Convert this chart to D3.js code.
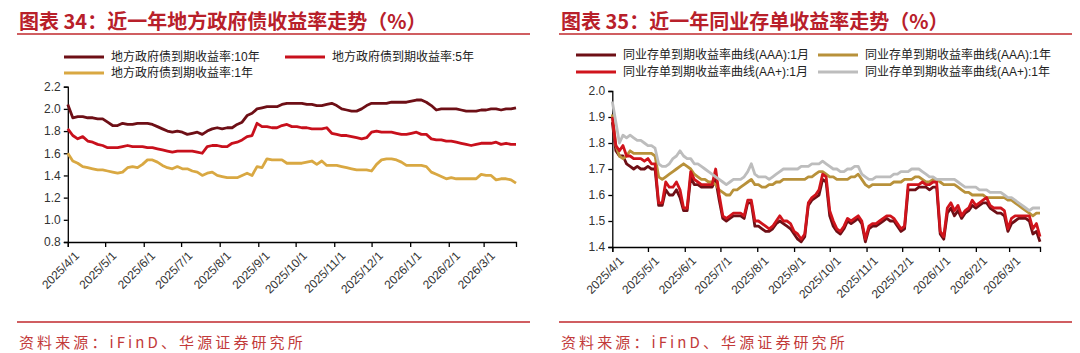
<!DOCTYPE html>
<html lang="zh">
<head>
<meta charset="UTF-8">
<title>收益率走势</title>
<script src="https://cdn.jsdelivr.net/npm/d3@7"></script>
<style>
    * { margin: 0; padding: 0; }
    body { background: #fff; }
    svg { display: block; font-family: "Liberation Sans", "Noto Sans CJK SC", sans-serif; }
    .title { font-family: "Noto Sans CJK SC", sans-serif; font-weight: bold; font-size: 20px; fill: #b8202a; }
    .source { font-family: "Noto Sans CJK SC", sans-serif; font-size: 15px; fill: #c23a3a; letter-spacing: 3.1px; }
    .legend text { font-family: "Liberation Sans", "Noto Sans CJK SC", sans-serif; font-size: 12px; fill: #222; }
    .axis text { font-family: "Liberation Sans", sans-serif; font-size: 12px; fill: #333; }
    .axis path, .axis line { stroke: #000; stroke-width: 1.3; }
</style>
</head>
<body>
<svg id="chart" width="1080" height="353"></svg>
<script>
// 横轴刻度
var tickLabels = ['2025/4/1', '2025/5/1', '2025/6/1', '2025/7/1', '2025/8/1', '2025/9/1',
    '2025/10/1', '2025/11/1', '2025/12/1', '2026/1/1', '2026/2/1', '2026/3/1'];

// 图表34: 每4天取一个点, 2025/4/1 ~ 2026/3/27
var leftDates = d3.timeDay.range(new Date(2025, 3, 1), new Date(2026, 2, 28), 4);
var local10y = [2.04, 1.92, 1.93, 1.93, 1.92, 1.92, 1.91, 1.91, 1.88, 1.85, 1.85, 1.87, 1.86, 1.86, 1.87, 1.87,
    1.87, 1.86, 1.84, 1.82, 1.80, 1.79, 1.80, 1.79, 1.77, 1.78, 1.79, 1.77, 1.80, 1.82, 1.83, 1.82,
    1.83, 1.83, 1.86, 1.88, 1.94, 1.96, 2.00, 2.01, 2.02, 2.02, 2.02, 2.04, 2.05, 2.05, 2.05, 2.05,
    2.04, 2.04, 2.03, 2.03, 2.04, 2.05, 2.03, 2.00, 1.99, 1.98, 1.98, 2.00, 2.03, 2.05, 2.05, 2.05,
    2.05, 2.06, 2.06, 2.06, 2.06, 2.07, 2.08, 2.08, 2.06, 2.03, 1.99, 2.00, 2.00, 2.00, 2.00, 1.99,
    1.98, 1.98, 1.98, 1.99, 1.99, 2.00, 2.00, 1.99, 2.00, 2.00, 2.01];
var local5y = [1.82, 1.76, 1.73, 1.75, 1.71, 1.70, 1.68, 1.67, 1.65, 1.65, 1.65, 1.66, 1.67, 1.66, 1.66, 1.66,
    1.65, 1.65, 1.64, 1.63, 1.62, 1.61, 1.62, 1.62, 1.62, 1.62, 1.61, 1.60, 1.66, 1.67, 1.67, 1.66,
    1.66, 1.69, 1.70, 1.72, 1.75, 1.76, 1.87, 1.84, 1.84, 1.83, 1.83, 1.85, 1.86, 1.84, 1.84, 1.83,
    1.83, 1.82, 1.82, 1.82, 1.83, 1.78, 1.77, 1.76, 1.76, 1.75, 1.74, 1.73, 1.74, 1.79, 1.80, 1.79,
    1.79, 1.79, 1.78, 1.77, 1.77, 1.78, 1.79, 1.77, 1.77, 1.73, 1.72, 1.72, 1.71, 1.71, 1.70, 1.69,
    1.68, 1.67, 1.68, 1.69, 1.69, 1.69, 1.70, 1.68, 1.69, 1.68, 1.68];
var local1y = [1.60, 1.53, 1.51, 1.48, 1.47, 1.46, 1.45, 1.45, 1.44, 1.43, 1.42, 1.43, 1.47, 1.48, 1.47, 1.50,
    1.54, 1.54, 1.52, 1.49, 1.47, 1.46, 1.48, 1.46, 1.46, 1.44, 1.43, 1.40, 1.42, 1.43, 1.40, 1.39,
    1.38, 1.38, 1.38, 1.40, 1.42, 1.40, 1.48, 1.47, 1.55, 1.54, 1.54, 1.54, 1.51, 1.51, 1.51, 1.51,
    1.52, 1.53, 1.50, 1.53, 1.49, 1.49, 1.49, 1.48, 1.47, 1.46, 1.45, 1.45, 1.45, 1.44, 1.50, 1.54,
    1.55, 1.55, 1.54, 1.52, 1.49, 1.49, 1.49, 1.49, 1.48, 1.43, 1.41, 1.39, 1.37, 1.38, 1.37, 1.37,
    1.37, 1.37, 1.37, 1.41, 1.40, 1.40, 1.36, 1.37, 1.37, 1.36, 1.33];
var leftTicksY = [0.8, 1.0, 1.2, 1.4, 1.6, 1.8, 2.0, 2.2];

// 图表35: 每3天取一个点
var rightDates = d3.timeDay.range(new Date(2025, 3, 1), new Date(2026, 2, 28), 3);
var aaa1m = [1.88, 1.77, 1.75, 1.75, 1.72, 1.71, 1.70, 1.71, 1.70, 1.70, 1.71, 1.70, 1.70, 1.56, 1.56, 1.62,
    1.60, 1.60, 1.62, 1.59, 1.54, 1.54, 1.67, 1.64, 1.64, 1.63, 1.63, 1.63, 1.63, 1.66, 1.58, 1.51,
    1.50, 1.51, 1.52, 1.52, 1.52, 1.51, 1.57, 1.57, 1.48, 1.48, 1.47, 1.46, 1.46, 1.47, 1.49, 1.50,
    1.49, 1.48, 1.47, 1.45, 1.43, 1.42, 1.44, 1.56, 1.58, 1.59, 1.60, 1.66, 1.65, 1.52, 1.48, 1.46,
    1.45, 1.47, 1.50, 1.49, 1.50, 1.51, 1.49, 1.42, 1.47, 1.48, 1.48, 1.49, 1.50, 1.51, 1.50, 1.50,
    1.48, 1.46, 1.47, 1.62, 1.62, 1.62, 1.63, 1.63, 1.63, 1.62, 1.63, 1.63, 1.45, 1.43, 1.53, 1.55,
    1.52, 1.54, 1.51, 1.53, 1.54, 1.56, 1.55, 1.56, 1.57, 1.57, 1.55, 1.54, 1.53, 1.53, 1.52, 1.46,
    1.49, 1.50, 1.51, 1.51, 1.51, 1.50, 1.45, 1.46, 1.42];
var aaa1y = [1.91, 1.79, 1.75, 1.74, 1.75, 1.77, 1.76, 1.76, 1.76, 1.76, 1.76, 1.76, 1.75, 1.67, 1.66, 1.67,
    1.68, 1.69, 1.70, 1.71, 1.72, 1.71, 1.70, 1.68, 1.67, 1.66, 1.66, 1.65, 1.65, 1.64, 1.62, 1.61,
    1.60, 1.60, 1.62, 1.62, 1.63, 1.64, 1.65, 1.66, 1.64, 1.64, 1.63, 1.63, 1.64, 1.64, 1.65, 1.65,
    1.66, 1.66, 1.66, 1.66, 1.66, 1.66, 1.66, 1.67, 1.67, 1.68, 1.69, 1.69, 1.68, 1.67, 1.67, 1.66,
    1.66, 1.66, 1.66, 1.67, 1.67, 1.68, 1.66, 1.64, 1.63, 1.64, 1.64, 1.64, 1.64, 1.64, 1.64, 1.65,
    1.65, 1.65, 1.66, 1.66, 1.66, 1.67, 1.67, 1.66, 1.65, 1.65, 1.66, 1.66, 1.65, 1.64, 1.64, 1.64,
    1.64, 1.63, 1.62, 1.61, 1.61, 1.60, 1.60, 1.60, 1.60, 1.59, 1.59, 1.59, 1.59, 1.59, 1.59, 1.58,
    1.58, 1.57, 1.56, 1.55, 1.54, 1.53, 1.52, 1.53, 1.53];
var aaPlus1m = [1.90, 1.79, 1.77, 1.79, 1.75, 1.75, 1.74, 1.74, 1.74, 1.73, 1.74, 1.72, 1.72, 1.57, 1.57, 1.65,
    1.63, 1.63, 1.65, 1.62, 1.55, 1.55, 1.69, 1.66, 1.65, 1.64, 1.64, 1.64, 1.64, 1.70, 1.60, 1.52,
    1.51, 1.52, 1.53, 1.53, 1.53, 1.52, 1.58, 1.58, 1.50, 1.50, 1.49, 1.48, 1.47, 1.48, 1.50, 1.52,
    1.50, 1.50, 1.49, 1.46, 1.45, 1.43, 1.45, 1.57, 1.59, 1.60, 1.62, 1.68, 1.67, 1.54, 1.50, 1.47,
    1.46, 1.48, 1.51, 1.50, 1.51, 1.52, 1.50, 1.43, 1.48, 1.49, 1.49, 1.50, 1.51, 1.52, 1.52, 1.51,
    1.49, 1.47, 1.48, 1.64, 1.64, 1.64, 1.64, 1.65, 1.64, 1.64, 1.65, 1.65, 1.46, 1.44, 1.55, 1.57,
    1.54, 1.56, 1.52, 1.54, 1.55, 1.58, 1.56, 1.57, 1.58, 1.59, 1.56, 1.55, 1.55, 1.55, 1.54, 1.47,
    1.51, 1.52, 1.52, 1.52, 1.52, 1.52, 1.47, 1.49, 1.44];
var aaPlus1y = [1.96, 1.88, 1.80, 1.83, 1.82, 1.83, 1.82, 1.81, 1.81, 1.80, 1.79, 1.79, 1.78, 1.72, 1.71, 1.71,
    1.72, 1.74, 1.75, 1.77, 1.75, 1.74, 1.74, 1.72, 1.72, 1.71, 1.70, 1.69, 1.68, 1.67, 1.66, 1.65,
    1.64, 1.65, 1.66, 1.66, 1.66, 1.67, 1.69, 1.72, 1.68, 1.67, 1.67, 1.67, 1.66, 1.67, 1.68, 1.69,
    1.70, 1.70, 1.70, 1.70, 1.70, 1.71, 1.71, 1.71, 1.72, 1.72, 1.72, 1.73, 1.72, 1.71, 1.70, 1.70,
    1.69, 1.69, 1.70, 1.70, 1.71, 1.71, 1.68, 1.67, 1.66, 1.66, 1.67, 1.67, 1.67, 1.67, 1.67, 1.68,
    1.68, 1.69, 1.69, 1.69, 1.70, 1.70, 1.70, 1.69, 1.68, 1.67, 1.67, 1.66, 1.66, 1.66, 1.66, 1.66,
    1.66, 1.65, 1.64, 1.63, 1.63, 1.63, 1.63, 1.62, 1.62, 1.62, 1.61, 1.61, 1.61, 1.61, 1.60, 1.59,
    1.59, 1.58, 1.57, 1.56, 1.55, 1.54, 1.55, 1.55, 1.55];
var rightTicksY = [1.4, 1.5, 1.6, 1.7, 1.8, 1.9, 2.0];

var svg = d3.select('#chart');
var parseTick = d3.timeParse('%Y/%m/%d');
var tickDates = tickLabels.map(parseTick);
var xDomain = [leftDates[0], leftDates[leftDates.length - 1]];

function drawPanel(cfg) {
    var g = svg.append('g');

    // 标题 + 红线
    g.append('text').attr('class', 'title').attr('x', cfg.x0 + 2).attr('y', 29).text(cfg.title);
    g.append('line').attr('x1', cfg.x0).attr('x2', cfg.x1).attr('y1', 34).attr('y2', 34)
        .attr('stroke', '#c0282d').attr('stroke-width', 1.5);
    g.append('line').attr('x1', cfg.x0).attr('x2', cfg.x1).attr('y1', 322).attr('y2', 322)
        .attr('stroke', '#c0282d').attr('stroke-width', 1.5);
    g.append('text').attr('class', 'source').attr('x', cfg.x0 + 2).attr('y', 348).text('资料来源：iFinD、华源证券研究所');

    var x = d3.scaleTime().domain(xDomain).range(cfg.xr);
    var y = d3.scaleLinear().domain(cfg.yd).range(cfg.yr);

    // y 轴
    g.append('g').attr('class', 'axis')
        .attr('transform', 'translate(' + cfg.xr[0] + ',0)')
        .call(d3.axisLeft(y).tickValues(cfg.yTicks).tickFormat(d3.format('.1f')).tickSizeOuter(0).tickSize(4).tickPadding(3));

    // x 轴, 标签斜 45 度
    var xa = g.append('g').attr('class', 'axis')
        .attr('transform', 'translate(0,' + cfg.yr[0] + ')')
        .call(d3.axisBottom(x).tickValues(tickDates).tickFormat(function (d, i) { return tickLabels[i]; })
            .tickSizeOuter(0).tickSize(5));
    xa.selectAll('text')
        .attr('text-anchor', 'end')
        .attr('dy', '0.35em')
        .attr('transform', 'translate(3,6) rotate(-45)');

    // 折线
    var line = d3.line()
        .x(function (d) { return x(d[0]); })
        .y(function (d) { return y(d[1]); });
    cfg.series.forEach(function (s) {
        g.append('path')
            .datum(cfg.dates.map(function (dt, i) { return [dt, s.values[i]]; }))
            .attr('fill', 'none')
            .attr('stroke', s.color)
            .attr('stroke-width', 2.8)
            .attr('stroke-linejoin', 'round')
            .attr('d', line);
    });

    // 图例
    var lg = g.append('g').attr('class', 'legend');
    cfg.series.forEach(function (s, i) {
        var p = cfg.legendPos[i];
        lg.append('line').attr('x1', p[0]).attr('x2', p[0] + cfg.sampleW).attr('y1', p[1]).attr('y2', p[1])
            .attr('stroke', s.color).attr('stroke-width', 3);
        lg.append('text').attr('x', p[0] + cfg.sampleW + 7).attr('y', p[1]).attr('dy', '0.36em').text(s.name);
    });
}

drawPanel({
    title: '图表 34：近一年地方政府债收益率走势（%）',
    x0: 17, x1: 530,
    xr: [67.8, 516], yr: [242, 86.7], yd: [0.8, 2.2], yTicks: leftTicksY,
    dates: leftDates,
    sampleW: 40,
    legendPos: [[64, 57], [285, 57], [64, 73]],
    series: [
        { name: '地方政府债到期收益率:10年', values: local10y, color: '#6e0f16' },
        { name: '地方政府债到期收益率:5年', values: local5y, color: '#c8101c' },
        { name: '地方政府债到期收益率:1年', values: local1y, color: '#d9a842' }
    ]
});

drawPanel({
    title: '图表 35：近一年同业存单收益率走势（%）',
    x0: 559, x1: 1072,
    xr: [612.3, 1040], yr: [247, 91], yd: [1.4, 2.0], yTicks: rightTicksY,
    dates: rightDates,
    sampleW: 40,
    legendPos: [[576, 55], [818, 55], [576, 72], [818, 72]],
    series: [
        { name: '同业存单到期收益率曲线(AAA):1月', values: aaa1m, color: '#6e0f16' },
        { name: '同业存单到期收益率曲线(AAA):1年', values: aaa1y, color: '#b8913a' },
        { name: '同业存单到期收益率曲线(AA+):1月', values: aaPlus1m, color: '#d0141c' },
        { name: '同业存单到期收益率曲线(AA+):1年', values: aaPlus1y, color: '#bdbdbd' }
    ]
});
</script>
</body>
</html>
